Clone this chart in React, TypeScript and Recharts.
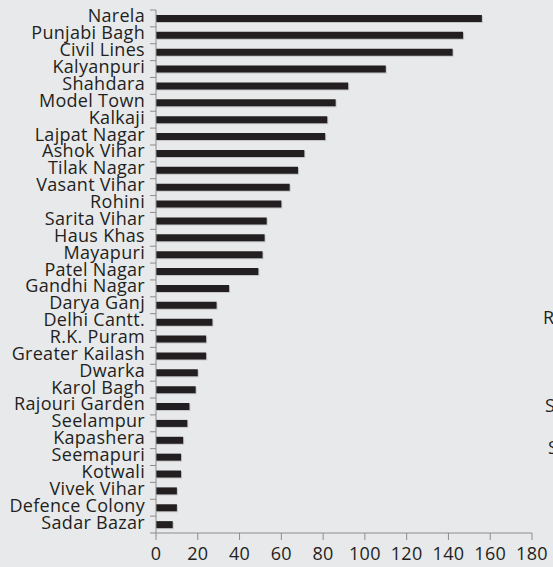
import React from 'react';
import { BarChart, Bar, XAxis, YAxis, Rectangle } from 'recharts';

const districts = [
  'Narela', 'Punjabi Bagh', 'Civil Lines', 'Kalyanpuri', 'Shahdara', 'Model Town',
  'Kalkaji', 'Lajpat Nagar', 'Ashok Vihar', 'Tilak Nagar', 'Vasant Vihar', 'Rohini',
  'Sarita Vihar', 'Haus Khas', 'Mayapuri', 'Patel Nagar', 'Gandhi Nagar', 'Darya Ganj',
  'Delhi Cantt.', 'R.K. Puram', 'Greater Kailash', 'Dwarka', 'Karol Bagh',
  'Rajouri Garden', 'Seelampur', 'Kapashera', 'Seemapuri', 'Kotwali', 'Vivek Vihar',
  'Defence Colony', 'Sadar Bazar'
];

const counts = [
  156, 147, 142, 110, 92, 86,
  82, 81, 71, 68, 64, 60,
  53, 52, 51, 49, 35, 29,
  27, 24, 24, 20, 19,
  16, 15, 13, 12, 12, 10,
  10, 8
];

const xTicks = [0, 20, 40, 60, 80, 100, 120, 140, 160, 180];

// clipped letters from the neighbouring panel
const edgeLetters = [
  { text: 'R', left: 543, top: 306 },
  { text: 'S', left: 545, top: 394 },
  { text: 'S', left: 548, top: 436 }
];

const data = districts.map((name, i) => ({ name, value: counts[i] }));

const W = 553;
const H = 567;
const TOP = 10;
const X_AXIS_H = 34;
const BAND = (H - TOP - X_AXIS_H) / districts.length;
const TEXT = '#231f20';
const AXIS = '#8c8c8c';
const FONT = '"Open Sans", sans-serif';
const FS = 18;

const CategoryTick = (props: any) => {
  const { x, y, payload, index } = props;
  const half = BAND / 2;
  const last = index === districts.length - 1;
  return (
    <g>
      <line x1={x - 6} x2={x} y1={y - half} y2={y - half} stroke={AXIS} strokeWidth={1} />
      {last && <line x1={x - 6} x2={x} y1={y + half} y2={y + half} stroke={AXIS} strokeWidth={1} />}
      <text
        x={x - 11}
        y={y}
        dy={4}
        textAnchor="end"
        fill={TEXT}
        fontSize={FS}
        letterSpacing={0.3}
        fontFamily={FONT}
      >
        {payload.value}
      </text>
    </g>
  );
};

const ShadowBar = (props: any) => {
  const { x, y, width, height } = props;
  return (
    <g>
      <rect x={x + 1} y={y + 1} width={Math.max(width, 0)} height={height} fill="#c4c5c8" />
      <Rectangle x={x} y={y} width={width} height={height} fill={TEXT} />
    </g>
  );
};

export default function App() {
  return (
    <div
      style={{
        position: 'absolute',
        left: 0,
        top: 0,
        width: W,
        height: H,
        background: '#e8e9eb',
        overflow: 'hidden',
        fontFamily: FONT
      }}
    >
      <BarChart
        width={W}
        height={H}
        data={data}
        layout="vertical"
        margin={{ top: TOP, right: 21, bottom: 0, left: 0 }}
        barCategoryGap={0}
      >
        <XAxis
          type="number"
          domain={[0, 180]}
          ticks={xTicks}
          interval={0}
          height={X_AXIS_H}
          tickSize={7}
          tickMargin={7}
          stroke={AXIS}
          tick={{ fill: TEXT, fontSize: FS, fontFamily: FONT, letterSpacing: 0.3 }}
        />
        <YAxis
          type="category"
          dataKey="name"
          width={156}
          interval={0}
          tickLine={false}
          tickSize={0}
          tickMargin={0}
          stroke={AXIS}
          tick={<CategoryTick />}
        />
        <Bar dataKey="value" barSize={7} shape={<ShadowBar />} isAnimationActive={false} />
      </BarChart>
      {edgeLetters.map((l, i) => (
        <span
          key={i}
          style={{
            position: 'absolute',
            left: l.left,
            top: l.top,
            fontSize: FS,
            color: TEXT,
            lineHeight: '22px'
          }}
        >
          {l.text}
        </span>
      ))}
    </div>
  );
}
